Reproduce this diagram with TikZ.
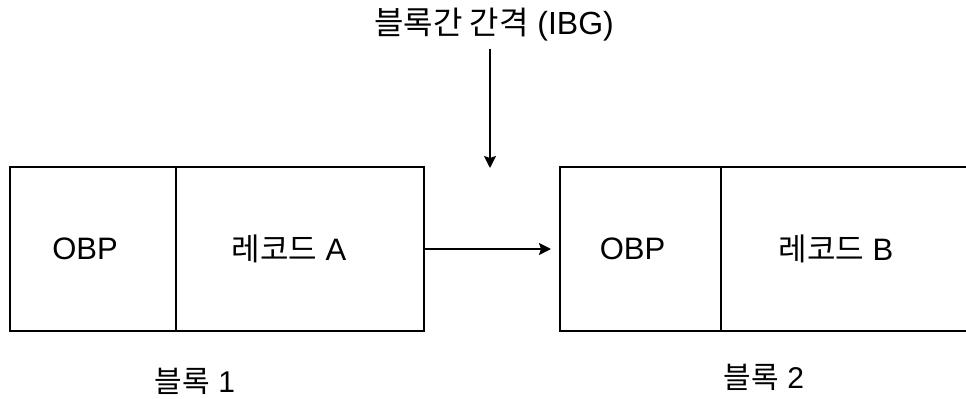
\documentclass[tikz,border=0pt]{standalone}
\usepackage{fontspec}
\setmainfont{Liberation Sans}
\newfontfamily\kr[Scale=1.0]{Noto Sans CJK KR}
\usetikzlibrary{positioning, arrows.meta}
\tikzstyle{cell} = [rectangle, draw=black, line width=1pt, minimum height=82pt, outer sep=0pt, inner sep=0pt]
\tikzstyle{celltext} = [font=\fontsize{15.5}{19}\selectfont]
\tikzstyle{caption} = [font=\fontsize{15}{18}\selectfont]
\tikzstyle{arrow} = [line width=1pt, -{Stealth[length=6pt, width=6pt, inset=1pt]}]

\begin{document}
\begin{tikzpicture}[x=0.5pt, y=-0.5pt]
\useasboundingbox (0,0) rectangle (966,398);
\clip (0,0) rectangle (966,398);
\node (obpA) [cell, minimum width=83pt, anchor=north west, label={[celltext, xshift=-4pt]center:OBP}] at (10,167) {};
\node (recA) [cell, minimum width=124pt, right=0pt of obpA, label={[celltext, xshift=-5.5pt]center:{\kr 레코드} A}] {};
\node (obpB) [cell, minimum width=80.5pt, anchor=north west, label={[celltext, xshift=-4pt]center:OBP}] at (560,167) {};
\node (recB) [cell, minimum width=127pt, right=0pt of obpB, label={[celltext, xshift=-6pt]center:{\kr 레코드} B}] {};
\node (blkA) [caption] at (195,381) {{\kr 블록} 1};
\node (blkB) [caption] at (764,377) {{\kr 블록} 2};
\node (ibg) [caption, font=\fontsize{16}{19}\selectfont] at (494,25) {{\kr 블록간 간격} (IBG)};
\coordinate (gap) at (490,168);

\draw [arrow] (ibg.south -| gap) -- (gap);
\draw [arrow, shorten >=4.5pt] (recA) -- (obpB);
\end{tikzpicture}
\end{document}
